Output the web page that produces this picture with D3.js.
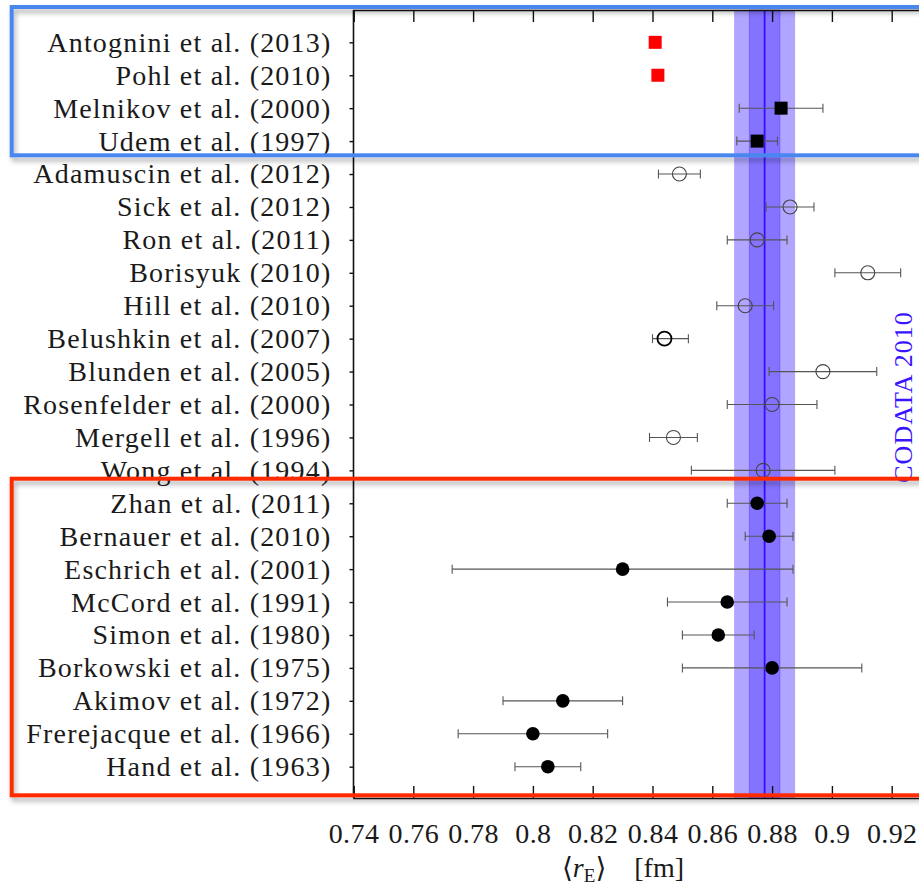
<!DOCTYPE html>
<html>
<head>
<meta charset="utf-8">
<script src="https://cdn.jsdelivr.net/npm/d3@7"></script>
<style>
  html, body { margin: 0; padding: 0; background: #fff; overflow: hidden; }
  text { font-family: "Liberation Serif", "DejaVu Serif", serif; }
</style>
</head>
<body>
<div id="chart"></div>
<script>
// proton charge radius measurements
const names = [
  "Antognini et al. (2013)", "Pohl et al. (2010)", "Melnikov et al. (2000)", "Udem et al. (1997)",
  "Adamuscin et al. (2012)", "Sick et al. (2012)", "Ron et al. (2011)", "Borisyuk (2010)",
  "Hill et al. (2010)", "Belushkin et al. (2007)", "Blunden et al. (2005)", "Rosenfelder et al. (2000)",
  "Mergell et al. (1996)", "Wong et al. (1994)", "Zhan et al. (2011)", "Bernauer et al. (2010)",
  "Eschrich et al. (2001)", "McCord et al. (1991)", "Simon et al. (1980)", "Borkowski et al. (1975)",
  "Akimov et al. (1972)", "Frerejacque et al. (1966)", "Hand et al. (1963)"
];
const kinds = [
  "muonic", "muonic", "hydrogen", "hydrogen",
  "fit", "fit", "fit", "fit", "fit", "fitBold", "fit", "fit", "fit", "fit",
  "scatter", "scatter", "scatter", "scatter", "scatter", "scatter", "scatter", "scatter", "scatter"
];
const values = [
  0.8409, 0.8418, 0.883, 0.875,
  0.849, 0.886, 0.875, 0.912, 0.871, 0.844, 0.897, 0.880, 0.847, 0.877,
  0.875, 0.879, 0.830, 0.865, 0.862, 0.880, 0.810, 0.800, 0.805
];
const errLow = [
  0, 0, 0.014, 0.0068,
  0.007, 0.008, 0.010, 0.011, 0.0095, 0.004, 0.018, 0.015, 0.008, 0.024,
  0.010, 0.008, 0.057, 0.020, 0.012, 0.030, 0.020, 0.025, 0.011
];
const errHigh = [
  0, 0, 0.014, 0.0068,
  0.007, 0.008, 0.010, 0.011, 0.0095, 0.008, 0.018, 0.015, 0.008, 0.024,
  0.010, 0.008, 0.057, 0.020, 0.012, 0.030, 0.020, 0.025, 0.011
];
const xTicks = [0.74, 0.76, 0.78, 0.80, 0.82, 0.84, 0.86, 0.88, 0.90, 0.92, 0.94];
const codata = 0.8775;
const codataErr = 0.0051;

const width = 919;
const height = 886;
const plotTop = 10, plotBottom = 798, plotLeft = 353.5;

const svg = d3.select("#chart")
  .append("svg")
  .attr("width", width)
  .attr("height", height);

const defs = svg.append("defs");
const shadow = defs.append("filter")
  .attr("id", "shadow")
  .attr("x", "-5%").attr("y", "-5%")
  .attr("width", "115%").attr("height", "115%");
shadow.append("feDropShadow")
  .attr("dx", 2).attr("dy", 4)
  .attr("stdDeviation", 2.5)
  .attr("flood-color", "#000")
  .attr("flood-opacity", 0.3);

const x = d3.scaleLinear()
  .domain([0.74, 0.94])
  .range([plotLeft, plotLeft + 0.2 * 2990]);

const y = d3.scalePoint()
  .domain(names)
  .range([plotTop - 0.6, plotBottom + 1.6])
  .padding(1);

const rows = names.map((n, i) => ({
  name: n, kind: kinds[i], v: values[i], lo: values[i] - errLow[i], hi: values[i] + errHigh[i]
}));

// CODATA band
svg.append("rect")
  .attr("x", x(codata - 2 * codataErr))
  .attr("y", plotTop)
  .attr("width", x(codata + 2 * codataErr) - x(codata - 2 * codataErr))
  .attr("height", plotBottom - plotTop)
  .attr("fill", "#5038ff")
  .attr("fill-opacity", 0.45);

svg.append("rect")
  .attr("x", x(codata - codataErr))
  .attr("y", plotTop)
  .attr("width", x(codata + codataErr) - x(codata - codataErr))
  .attr("height", plotBottom - plotTop)
  .attr("fill", "#5038ff")
  .attr("fill-opacity", 0.45)
  .attr("stroke", "#5a3cff")
  .attr("stroke-opacity", 0.5);

svg.append("line")
  .attr("x1", x(codata)).attr("x2", x(codata))
  .attr("y1", plotTop).attr("y2", plotBottom)
  .attr("stroke", "#3a0cff")
  .attr("stroke-width", 1.8);

// axes frame
const axisBottom = d3.axisBottom(x)
  .tickValues(xTicks)
  .tickSize(-12)
  .tickPadding(25)
  .tickFormat(d => String(+d.toFixed(2)));

const gx = svg.append("g")
  .attr("transform", `translate(0,${plotBottom})`)
  .call(axisBottom);
gx.select(".domain").attr("stroke", "#111").attr("stroke-width", 1.6);
gx.selectAll(".tick line").attr("stroke", "#111").attr("stroke-width", 1.4);
gx.selectAll(".tick text")
  .attr("font-size", 28)
  .attr("letter-spacing", 0.4)
  .attr("fill", "#1a1a1a");

const gTop = svg.append("g")
  .attr("transform", `translate(0,${plotTop})`)
  .call(d3.axisTop(x).tickValues(xTicks).tickSize(-12).tickFormat(""));
gTop.select(".domain").attr("stroke", "#111").attr("stroke-width", 1.6);
gTop.selectAll(".tick line").attr("stroke", "#111").attr("stroke-width", 1.4);

const gy = svg.append("g")
  .attr("transform", `translate(${plotLeft},0)`)
  .call(d3.axisLeft(y).tickSize(4).tickPadding(18));
gy.select(".domain")
  .attr("d", `M0,${plotTop}V${plotBottom}`)
  .attr("stroke", "#111").attr("stroke-width", 1.6);
gy.selectAll(".tick line").attr("stroke", "#111").attr("stroke-width", 1.4);
gy.selectAll(".tick text")
  .attr("font-size", 28)
  .attr("letter-spacing", 1.2)
  .attr("fill", "#1a1a1a");

// error bars
const bars = svg.append("g")
  .selectAll("g")
  .data(rows.filter(d => d.hi > d.lo))
  .join("g")
  .attr("stroke", "#555")
  .attr("stroke-width", 1.1);

bars.append("line")
  .attr("x1", d => x(d.lo)).attr("x2", d => x(d.hi))
  .attr("y1", d => y(d.name)).attr("y2", d => y(d.name));
bars.append("line")
  .attr("x1", d => x(d.lo)).attr("x2", d => x(d.lo))
  .attr("y1", d => y(d.name) - 4.5).attr("y2", d => y(d.name) + 4.5);
bars.append("line")
  .attr("x1", d => x(d.hi)).attr("x2", d => x(d.hi))
  .attr("y1", d => y(d.name) - 4.5).attr("y2", d => y(d.name) + 4.5);

// markers
svg.selectAll(".sq")
  .data(rows.filter(d => d.kind === "muonic" || d.kind === "hydrogen"))
  .join("rect")
  .attr("class", "sq")
  .attr("x", d => x(d.v) - 6.5)
  .attr("y", d => y(d.name) - 6.5)
  .attr("width", 13)
  .attr("height", 13)
  .attr("fill", d => d.kind === "muonic" ? "#ff0000" : "#000");

svg.selectAll(".open")
  .data(rows.filter(d => d.kind === "fit" || d.kind === "fitBold"))
  .join("circle")
  .attr("class", "open")
  .attr("cx", d => x(d.v))
  .attr("cy", d => y(d.name))
  .attr("r", 7)
  .attr("fill", "none")
  .attr("stroke", d => d.kind === "fitBold" ? "#000" : "#444")
  .attr("stroke-width", d => d.kind === "fitBold" ? 1.8 : 1.1);

svg.selectAll(".dot")
  .data(rows.filter(d => d.kind === "scatter"))
  .join("circle")
  .attr("class", "dot")
  .attr("cx", d => x(d.v))
  .attr("cy", d => y(d.name))
  .attr("r", 6.8)
  .attr("fill", "#000");

// CODATA label
svg.append("text")
  .attr("transform", `translate(912,397) rotate(-90)`)
  .attr("text-anchor", "middle")
  .attr("font-size", 26)
  .attr("letter-spacing", 1)
  .attr("fill", "#3a14ff")
  .text("CODATA 2010");

// x axis title
const title = svg.append("text")
  .attr("x", 623)
  .attr("y", 877)
  .attr("text-anchor", "middle")
  .attr("font-size", 28)
  .attr("fill", "#1a1a1a");
title.append("tspan").text("\u27E8");
title.append("tspan").attr("font-style", "italic").text("r");
title.append("tspan").attr("font-size", 19).attr("dy", 5).text("E");
title.append("tspan").attr("dy", -5).text("\u27E9\u00A0\u00A0\u00A0\u00A0[fm]");

// highlight boxes
svg.append("rect")
  .attr("x", 11.7).attr("y", 7)
  .attr("width", 940).attr("height", y(names[3]) + 14.2 - 7)
  .attr("fill", "none")
  .attr("stroke", "#4a86f0")
  .attr("stroke-width", 4)
  .attr("filter", "url(#shadow)");

svg.append("rect")
  .attr("x", 11.7).attr("y", 478.7)
  .attr("width", 940).attr("height", 795.3 - 478.7)
  .attr("fill", "none")
  .attr("stroke", "#ff2a00")
  .attr("stroke-width", 4)
  .attr("filter", "url(#shadow)");
</script>
</body>
</html>
